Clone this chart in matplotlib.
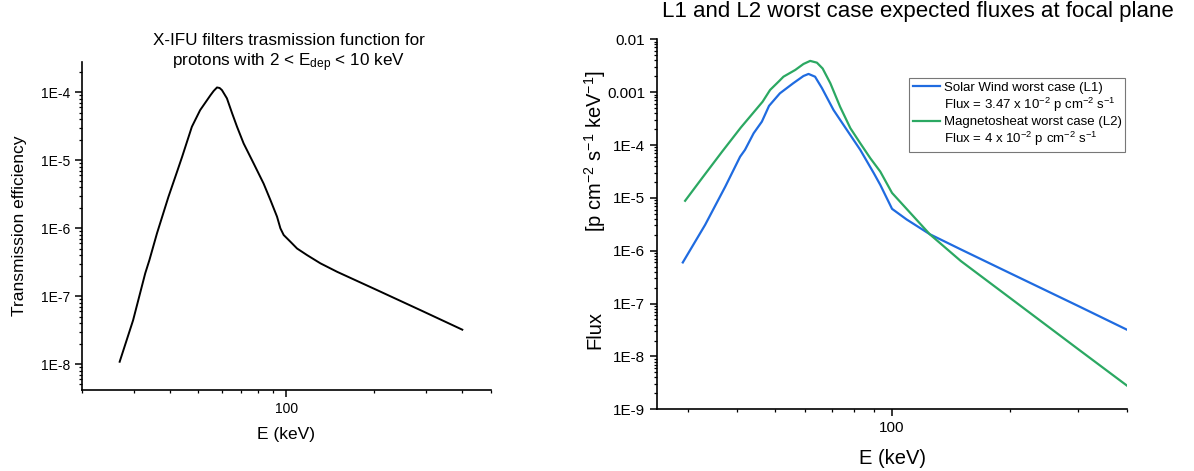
import matplotlib
matplotlib.use("Agg")
import numpy as np
import matplotlib.pyplot as plt
from matplotlib.ticker import LogLocator, FuncFormatter, NullFormatter
from matplotlib.lines import Line2D

plt.rcParams['font.family'] = ['Liberation Sans', 'DejaVu Sans']
plt.rcParams['mathtext.fontset'] = 'custom'
plt.rcParams['mathtext.rm'] = 'Liberation Sans'
plt.rcParams['mathtext.it'] = 'Liberation Sans:italic'
plt.rcParams['mathtext.default'] = 'regular'

# left panel: filter transmission
trans_E = [26.9, 29.9, 32.9, 34.0, 36.1, 39.5, 42.3, 44.0, 47.5, 50.7, 55.0,
           56.4, 57.9, 59.1, 60.2, 62.6, 65.2, 67.8, 71.4, 77.3, 83.6, 88.2, 92.9,
           95.4, 97.9, 103.2, 108.8, 117.7, 130.7, 149.2, 204.5, 287.5, 399.7]
trans_eff = [1.08e-8, 4.4e-8, 2.16e-7, 3.38e-7, 8.4e-7, 2.88e-6, 6.8e-6, 1.12e-5,
             3.09e-5, 5.43e-5, 9.0e-5, 1.04e-4, 1.17e-4, 1.15e-4, 1.07e-4,
             8.1e-5, 4.9e-5, 3.09e-5, 1.76e-5, 8.9e-6, 4.5e-6, 2.58e-6, 1.47e-6,
             9.9e-7, 7.9e-7, 6.3e-7, 5.0e-7, 4.0e-7, 3.03e-7, 2.27e-7, 1.22e-7,
             6.2e-8, 3.2e-8]

# right panel: expected fluxes
sw_E = [29.1, 33.2, 37.4, 40.8, 42.0, 44.2, 46.4, 48.4, 51.6, 55.8, 59.3, 61.1,
        63.5, 66.1, 70.8, 76.6, 82.9, 89.8, 93.3, 100, 109, 125, 150, 200, 300, 400]
sw_flux = [6.0e-7, 3.09e-6, 1.64e-5, 6.0e-5, 8.1e-5, 1.67e-4, 2.77e-4, 5.5e-4,
           9.5e-4, 1.47e-3, 2.02e-3, 2.21e-3, 1.96e-3, 1.2e-3, 4.6e-4, 1.93e-4,
           8.1e-5, 2.93e-5, 1.76e-5, 6.2e-6, 3.9e-6, 2.05e-6, 1.06e-6, 3.8e-7,
           9.0e-8, 3.2e-8]
ms_E = [29.5, 32.6, 36.7, 41.0, 46.6, 48.7, 51.2, 52.7, 56.5, 59.3, 61.7, 64.2,
        66.4, 69.5, 73.6, 78.2, 82.9, 88.0, 93.3, 100, 125, 150, 200, 300, 400]
ms_flux = [8.8e-6, 2.36e-5, 7.5e-5, 2.15e-4, 6.6e-4, 1.1e-3, 1.58e-3, 1.96e-3,
           2.63e-3, 3.41e-3, 3.9e-3, 3.61e-3, 2.8e-3, 1.47e-3, 5.3e-4, 2.08e-4,
           1.08e-4, 5.6e-5, 3.14e-5, 1.24e-5, 2.04e-6, 6.4e-7, 1.3e-7, 1.37e-8,
           2.8e-9]

sw_label = "Solar Wind worst case (L1)"
sw_note = r"Flux = 3.47 x 10$^{-2}$ p cm$^{-2}$ s$^{-1}$"
ms_label = "Magnetosheat worst case (L2)"
ms_note = r"Flux = 4 x 10$^{-2}$ p cm$^{-2}$ s$^{-1}$"


def sci_fmt(v, pos):
    e = int(round(np.log10(v)))
    if e >= -3:
        return "%g" % v
    return "1E%d" % e


def style_axes(ax, fs):
    ax.set_xscale('log')
    ax.set_yscale('log')
    for s in ['top', 'right']:
        ax.spines[s].set_visible(False)
    for s in ['left', 'bottom']:
        ax.spines[s].set_linewidth(1.2)
    ax.xaxis.set_major_locator(LogLocator(base=10))
    ax.xaxis.set_minor_locator(LogLocator(base=10, subs=range(2, 10), numticks=20))
    ax.xaxis.set_minor_formatter(NullFormatter())
    ax.xaxis.set_major_formatter(FuncFormatter(lambda v, p: "%d" % v))
    ax.yaxis.set_major_locator(LogLocator(base=10, numticks=20))
    ax.yaxis.set_minor_locator(LogLocator(base=10, subs=range(2, 10), numticks=20))
    ax.yaxis.set_minor_formatter(NullFormatter())
    ax.yaxis.set_major_formatter(FuncFormatter(sci_fmt))
    ax.tick_params(which='major', direction='out', length=5, width=1.1, labelsize=fs)
    ax.tick_params(which='minor', direction='out', length=2.5, width=0.9)


fig = plt.figure(figsize=(11.94, 4.71), dpi=100)

# left panel
ax1 = fig.add_axes([0.0687, 0.172, 0.3423, 0.697])
ax1.plot(trans_E, trans_eff, color='black', lw=1.4)
style_axes(ax1, 10)
ax1.set_xlim(20, 500)
ax1.set_ylim(4.15e-9, 2.8e-4)
ax1.set_xlabel("E (keV)", fontsize=12.5, labelpad=8)
ax1.set_ylabel("Transmission efficiency", fontsize=12.5, labelpad=10)
fig.text(0.242, 0.887,
         "X-IFU filters trasmission function for\n"
         r"protons with 2 < E$_{dep}$ < 10 keV",
         ha='center', va='center', fontsize=12.3, linespacing=1.2)

# right panel
ax2 = fig.add_axes([0.5503, 0.131, 0.3936, 0.7856])
l1, = ax2.plot(sw_E, sw_flux, color='#1f6be0', lw=1.6)
l2, = ax2.plot(ms_E, ms_flux, color='#2ba862', lw=1.6)
style_axes(ax2, 11)
ax2.set_xlim(25, 400)
ax2.set_ylim(1e-9, 1e-2)
ax2.set_xlabel("E (keV)", fontsize=14.5, labelpad=10)
fig.text(0.498, 0.68, r"[p cm$^{-2}$ s$^{-1}$ keV$^{-1}$]", rotation=90,
         ha='center', va='center', fontsize=14.5)
fig.text(0.498, 0.30, "Flux", rotation=90, ha='center', va='center', fontsize=14.5)
fig.text(0.769, 0.975, "L1 and L2 worst case expected fluxes at focal plane",
         ha='center', va='center', fontsize=16)

blank = Line2D([], [], color='none')
leg = ax2.legend([l1, blank, l2, blank], [sw_label, sw_note, ms_label, ms_note],
                 loc='upper right', bbox_to_anchor=(0.9425, 0.835),
                 bbox_transform=fig.transFigure, fontsize=9.5, frameon=True,
                 fancybox=False, edgecolor='#555555', handlelength=2.0,
                 handletextpad=0.3, labelspacing=0.15, borderpad=0.3,
                 borderaxespad=0)
leg.get_frame().set_linewidth(0.8)

fig.savefig("out.png", dpi=100)
